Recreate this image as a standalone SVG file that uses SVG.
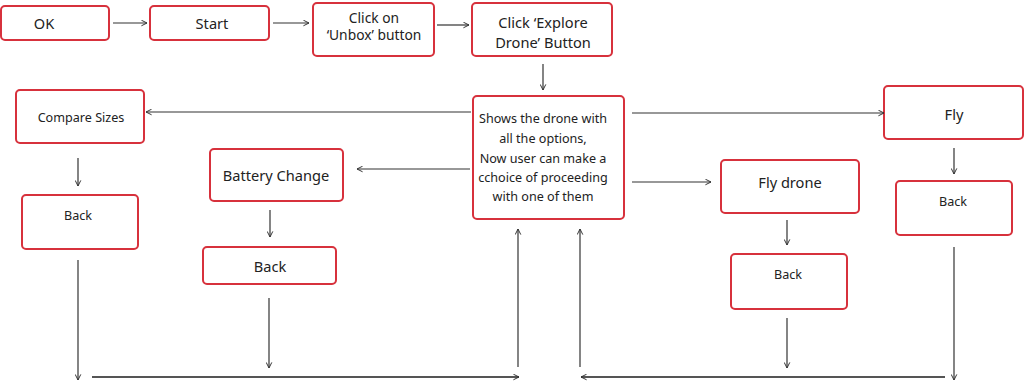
<svg xmlns="http://www.w3.org/2000/svg" width="1024" height="382" viewBox="0 0 1024 382">
<style>
.box{fill:#fff;stroke:#d7313c;stroke-width:2}
.t{font-family:"Noto Sans","Open Sans",sans-serif;fill:#222;text-anchor:middle;dominant-baseline:middle}
.s12{font-size:12.6px}.s14{font-size:14.6px}.s13{font-size:13.8px}
.c{stroke:#333;stroke-width:1.2;fill:none;marker-end:url(#ah)}
.b{stroke:#555;stroke-width:2;fill:none;marker-end:url(#ah)}
</style>
<defs>
<marker id="ah" viewBox="0 0 10 10" refX="9" refY="5" markerWidth="7" markerHeight="7" markerUnits="userSpaceOnUse" orient="auto">
<path d="M1,1 L9,5 L1,9" fill="none" stroke="#333" stroke-width="1.4"/>
</marker>
</defs>
<rect width="1024" height="382" fill="#fff"/>
<g id="n-ok"><rect class="box" x="1" y="6" width="108" height="34" rx="4"/><text class="t s14" x="44" y="25">OK</text></g>
<g id="n-start"><rect class="box" x="150" y="6" width="119" height="34" rx="4"/><text class="t s14" x="212" y="25">Start</text></g>
<g id="n-unbox"><rect class="box" x="313" y="3" width="121" height="53" rx="4"/><text class="t s13" x="374" y="19">Click on</text><text class="t s13" x="374" y="36">‘Unbox’ button</text></g>
<g id="n-explore"><rect class="box" x="472" y="3" width="140" height="53" rx="4"/><text class="t s14" x="543" y="24">Click ‘Explore</text><text class="t s14" x="543" y="44">Drone’ Button</text></g>
<g id="n-center"><rect class="box" x="473" y="96" width="151" height="123" rx="4"/>
<text class="t s12" x="543" y="120">Shows the drone with</text>
<text class="t s12" x="543" y="140">all the options,</text>
<text class="t s12" x="543" y="160">Now user can make a</text>
<text class="t s12" x="543" y="179">cchoice of proceeding</text>
<text class="t s12" x="543" y="198">with one of them</text></g>
<g id="n-compare"><rect class="box" x="16" y="90" width="128" height="53" rx="4"/><text class="t s12" x="81" y="119">Compare Sizes</text></g>
<g id="n-back1"><rect class="box" x="22" y="195" width="116" height="54" rx="4"/><text class="t s12" x="78" y="217">Back</text></g>
<g id="n-battery"><rect class="box" x="210" y="149" width="133" height="52" rx="4"/><text class="t s14" x="276" y="177">Battery Change</text></g>
<g id="n-back2"><rect class="box" x="203" y="247" width="133" height="37" rx="4"/><text class="t s14" x="270" y="268">Back</text></g>
<g id="n-flydrone"><rect class="box" x="721" y="160" width="138" height="53" rx="4"/><text class="t s14" x="790" y="184">Fly drone</text></g>
<g id="n-back3"><rect class="box" x="731" y="254" width="116" height="55" rx="4"/><text class="t s12" x="788" y="276">Back</text></g>
<g id="n-fly"><rect class="box" x="884" y="86" width="139" height="53" rx="4"/><text class="t s14" x="954" y="116">Fly</text></g>
<g id="n-back4"><rect class="box" x="896" y="181" width="116" height="54" rx="4"/><text class="t s12" x="953" y="203">Back</text></g>
<g id="connectors">
<line class="c" x1="113" y1="23" x2="147" y2="23"/>
<line class="c" x1="273" y1="23" x2="309" y2="23"/>
<line class="c" x1="437" y1="25" x2="469" y2="25"/>
<line class="c" x1="543" y1="64" x2="543" y2="90"/>
<line class="c" x1="471" y1="112" x2="146" y2="112"/>
<line class="c" x1="470" y1="169" x2="357" y2="169"/>
<line class="c" x1="632" y1="113" x2="884" y2="113"/>
<line class="c" x1="632" y1="182" x2="711" y2="182"/>
<line class="c" x1="78" y1="158" x2="78" y2="186"/>
<line class="c" x1="270" y1="210" x2="270" y2="237"/>
<line class="c" x1="787" y1="220" x2="787" y2="245"/>
<line class="c" x1="954" y1="148" x2="954" y2="174"/>
<line class="c" x1="78" y1="260" x2="78" y2="380"/>
<line class="c" x1="269" y1="298" x2="269" y2="368"/>
<line class="c" x1="787" y1="318" x2="787" y2="368"/>
<line class="c" x1="954" y1="247" x2="954" y2="380"/>
<line class="c" x1="518" y1="367" x2="518" y2="229"/>
<line class="c" x1="580" y1="367" x2="580" y2="229"/>
<line class="b" x1="92" y1="377" x2="519" y2="377"/>
<line class="b" x1="945" y1="377" x2="581" y2="377"/>
</g>
</svg>
